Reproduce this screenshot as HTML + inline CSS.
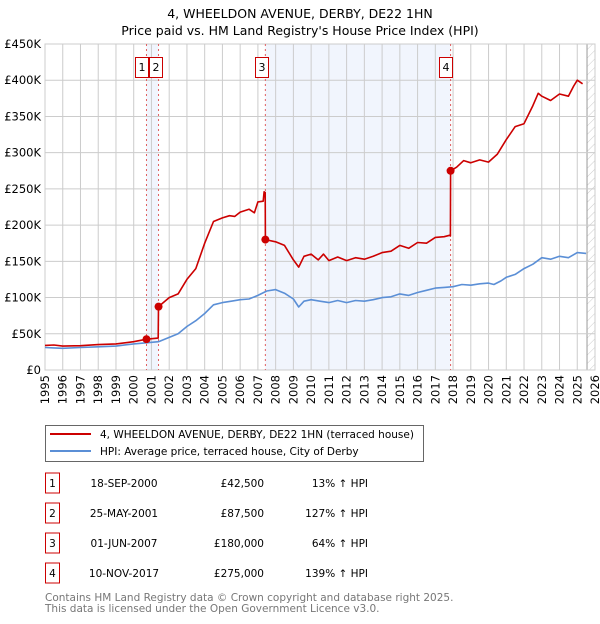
<!DOCTYPE html>
<html><head><meta charset="utf-8"><style>
body{margin:0;background:#fff;font-family:"DejaVu Sans","Liberation Sans",sans-serif}
svg text{font-family:"DejaVu Sans","Liberation Sans",sans-serif}
</style></head><body>
<svg id="chart" width="600" height="620" xmlns="http://www.w3.org/2000/svg">
<defs><pattern id="hatch" width="6" height="6" patternUnits="userSpaceOnUse" patternTransform="rotate(45)"><line x1="0" y1="0" x2="0" y2="6" stroke="#ccc" stroke-width="1"/></pattern></defs>
<text x="300" y="18" text-anchor="middle" font-size="12.5">4, WHEELDON AVENUE, DERBY, DE22 1HN</text>
<text x="300" y="35" text-anchor="middle" font-size="12.5">Price paid vs. HM Land Registry's House Price Index (HPI)</text>
<g id="plot"></g>
<rect x="45.5" y="425.5" width="378" height="36" fill="#fff" stroke="#666"/>
<line x1="50" y1="434" x2="91" y2="434" stroke="#cc0000" stroke-width="2"/>
<text x="100" y="438" font-size="10.5">4, WHEELDON AVENUE, DERBY, DE22 1HN (terraced house)</text>
<line x1="50" y1="451" x2="91" y2="451" stroke="#5b8fd6" stroke-width="2"/>
<text x="100" y="455" font-size="10.5">HPI: Average price, terraced house, City of Derby</text>
<g id="table"></g>
<text x="45" y="601" font-size="10.5" fill="#777">Contains HM Land Registry data © Crown copyright and database right 2025.</text>
<text x="45" y="612" font-size="10.5" fill="#777">This data is licensed under the Open Government Licence v3.0.</text>
</svg>
<script>
const yTicks=[0,50,100,150,200,250,300,350,400,450];
const years=[1995,1996,1997,1998,1999,2000,2001,2002,2003,2004,2005,2006,2007,2008,2009,2010,2011,2012,2013,2014,2015,2016,2017,2018,2019,2020,2021,2022,2023,2024,2025,2026];
const hpiT=[1995,1995.5,1996,1997,1998,1999,2000,2000.7,2001.4,2002,2002.5,2003,2003.5,2004,2004.5,2005,2005.5,2006,2006.5,2007,2007.5,2008,2008.5,2009,2009.3,2009.6,2010,2010.5,2011,2011.5,2012,2012.5,2013,2013.5,2014,2014.5,2015,2015.5,2016,2016.5,2017,2017.5,2018,2018.5,2019,2019.5,2020,2020.3,2020.7,2021,2021.5,2022,2022.5,2023,2023.5,2024,2024.5,2025,2025.5];
const hpiV=[31,30.5,30,31,32,33,36,37.5,39,45,50,60,68,78,90,93,95,97,98,103,109,111,106,98,87,95,97,95,93,96,93,96,95,97,100,101,105,103,107,110,113,114,115,118,117,119,120,118,123,128,132,140,146,155,153,157,155,162,161];
const propT=[1995,1995.5,1996,1997,1998,1999,2000,2000.72,2001.38,2001.4,2002,2002.5,2003,2003.5,2004,2004.5,2005,2005.4,2005.7,2006,2006.5,2006.8,2007,2007.3,2007.35,2007.41,2007.42,2008,2008.5,2009,2009.3,2009.6,2010,2010.4,2010.7,2011,2011.5,2012,2012.5,2013,2013.5,2014,2014.5,2015,2015.5,2016,2016.5,2017,2017.5,2017.8,2017.85,2017.86,2018.2,2018.6,2019,2019.5,2020,2020.5,2021,2021.5,2022,2022.5,2022.8,2023,2023.5,2024,2024.5,2024.8,2025,2025.3];
const propV=[34,34.5,33,33.5,35,36,39,42.5,44,87.5,100,105,125,140,175,205,210,213,212,218,222,217,232,233,246,245,180,177,172,152,142,157,160,152,160,151,156,151,155,153,157,162,164,172,168,176,175,183,184,186,185,275,280,289,286,290,287,298,318,336,340,365,382,378,372,381,378,392,400,395];
const saleLabels=["1","2","3","4"];
const saleT=[2000.72,2001.4,2007.42,2017.86];
const saleV=[42.5,87.5,180,275];
const saleDates=["18-SEP-2000","25-MAY-2001","01-JUN-2007","10-NOV-2017"];
const salePrices=["£42,500","£87,500","£180,000","£275,000"];
const saleHpi=["13% ↑ HPI","127% ↑ HPI","64% ↑ HPI","139% ↑ HPI"];

const NS="http://www.w3.org/2000/svg";
const X0=45,X1=595,Y0=370,Y1=44;
const xs=t=>X0+(t-1995)/31*(X1-X0);
const ys=v=>Y0-v/450*(Y0-Y1);
function mk(tag,attrs,parent,txt){const e=document.createElementNS(NS,tag);for(const k in attrs)e.setAttribute(k,attrs[k]);if(txt!==undefined)e.textContent=txt;parent.appendChild(e);return e;}
const P=document.getElementById('plot');
let r=mk('rect',{x:X0,y:Y1,width:X1-X0,height:Y0-Y1,fill:'#fff'},P);


for(const [a,b] of [[saleT[0],saleT[1]],[saleT[2],saleT[3]]]){
 let s=mk('rect',{x:xs(a),y:Y1,width:xs(b)-xs(a),height:Y0-Y1,fill:'#eef3fc',opacity:0.8},P);
 
 
}
let h=mk('rect',{x:xs(2025.55),y:Y1,width:X1-xs(2025.55),height:Y0-Y1,fill:'url(#hatch)'},P);


mk('line',{x1:xs(2025.55),y1:Y1,x2:xs(2025.55),y2:Y0,stroke:'#999'},P);
for(const v of yTicks){
 mk('line',{x1:X0,y1:ys(v),x2:X1,y2:ys(v),stroke:'#ccc'},P);
 let t=mk('text',{x:X0-4,y:ys(v)+4,'text-anchor':'end','font-size':'11.5'},P,v===0?'£0':'£'+v+'K');
 
 
}
for(const y of years){
 mk('line',{x1:xs(y),y1:Y1,x2:xs(y),y2:Y0,stroke:'#ccc'},P);
 let t=mk('text',{transform:`translate(${xs(y)+4},${Y0+5}) rotate(-90)`,'text-anchor':'end','font-size':'11.5'},P,String(y));
 
 
}
mk('rect',{x:X0,y:Y1,width:X1-X0,height:Y0-Y1,fill:'none',stroke:'#ccc'},P);
const boxX=[135,149,255,439];
saleT.forEach((t,i)=>{
 let l=mk('line',{x1:xs(t),y1:Y1,x2:xs(t),y2:Y0,stroke:'#e06060','stroke-dasharray':'2,3','stroke-width':1},P);
 
 
 let bx=boxX[i];
 let g=mk('g',{},P);
 
 
 mk('rect',{x:bx+0.5,y:57.5,width:13,height:20,fill:'#fff',stroke:'#cc0000'},g);
 mk('text',{x:bx+7,y:71,'text-anchor':'middle','font-size':'11'},g,saleLabels[i]);
});
function path(T,V,color,name){
 let d=T.map((t,i)=>(i?'L':'M')+xs(t).toFixed(1)+','+ys(V[i]).toFixed(1)).join('');
 let p=mk('path',{d,fill:'none',stroke:color,'stroke-width':1.6,'stroke-linejoin':'round'},P);
 
 
}
path(hpiT,hpiV,'#5b8fd6','hpi-line');
path(propT,propV,'#cc0000','property-line');
saleT.forEach((t,i)=>{
 let c=mk('circle',{cx:xs(t),cy:ys(saleV[i]),r:4,fill:'#cc0000'},P);
 
 
});
const T=document.getElementById('table');
saleLabels.forEach((lab,i)=>{
 const cy=483+i*30;
 let g=mk('g',{},T);
 
 
 mk('rect',{x:45.5,y:cy-10,width:14,height:20,fill:'#fff',stroke:'#cc0000'},g);
 mk('text',{x:52.5,y:cy+4,'text-anchor':'middle','font-size':'10.5'},g,lab);
 mk('text',{x:124,y:cy+4,'text-anchor':'middle','font-size':'10.5'},g,saleDates[i]);
 mk('text',{x:264,y:cy+4,'text-anchor':'end','font-size':'10.5'},g,salePrices[i]);
 mk('text',{x:368,y:cy+4,'text-anchor':'end','font-size':'10.5'},g,saleHpi[i]);
});
</script>
</body></html>
